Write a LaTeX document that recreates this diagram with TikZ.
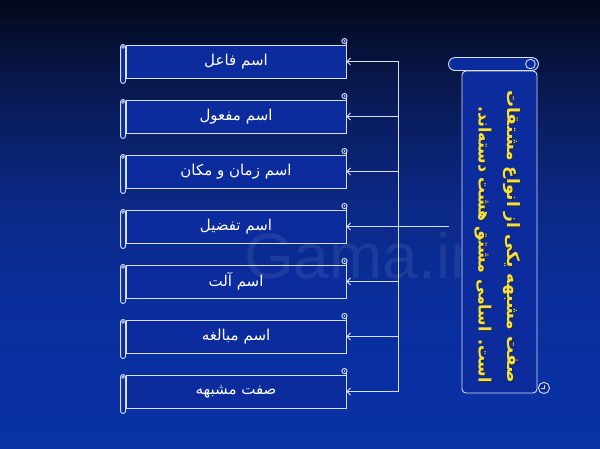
\documentclass[tikz,border=0pt]{standalone}
\usepackage{fontspec}
\usetikzlibrary{arrows.meta}
\TeXXeTstate=1
\newfontfamily\arabicfont[Script=Arabic]{DejaVu Sans}
\newfontfamily\wmfont{Liberation Sans}
\definecolor{bgA}{HTML}{0832A6}
\definecolor{bgB}{HTML}{0A2E9C}
\definecolor{bgC}{HTML}{0B2884}
\definecolor{bgD}{HTML}{0A1C5C}
\definecolor{bgE}{HTML}{06123A}
\definecolor{bgF}{HTML}{02081A}
\definecolor{boxblue}{HTML}{0C2C9E}
\definecolor{linec}{HTML}{D8E0F8}
\definecolor{ylw}{HTML}{F4E040}
\pgfdeclareverticalshading{bgshade}{100bp}{color(0bp)=(bgA); color(25bp)=(bgA); color(41.6bp)=(bgB); color(52.7bp)=(bgC); color(62.7bp)=(bgD); color(69.4bp)=(bgE); color(75bp)=(bgF); color(100bp)=(bgF)}
\tikzset{
  boxst/.style={draw=linec, fill=boxblue, line width=0.9pt, minimum width=220pt, minimum height=33pt, inner sep=0pt, text=white, font=\arabicfont\fontsize{15}{17}\selectfont},
  rodst/.style={draw=linec, fill=boxblue, line width=0.9pt},
  conn/.style={draw=linec, line width=0.9pt},
  tipst/.style={-{Straight Barb[length=3.5pt,width=7pt,line width=0.8pt]}},
  ytext/.style={text=ylw, font=\arabicfont\bfseries\fontsize{17}{19}\selectfont, inner sep=0pt},
  shtext/.style={text=black!85, font=\arabicfont\bfseries\fontsize{17}{19}\selectfont, inner sep=0pt}
}
\begin{document}
\begin{tikzpicture}[x=1pt,y=-1pt]
\useasboundingbox (0,0) rectangle (600,449);
\fill[shading=bgshade] (0,0) rectangle (600,449);
% boxes
\node[boxst] (b1) at (236,61.5) {\beginR اسم فاعل\endR};
\node[boxst] (b2) at (236,116.5) {\beginR اسم مفعول\endR};
\node[boxst] (b3) at (236,171.5) {\beginR اسم زمان و مکان\endR};
\node[boxst] (b4) at (236,226.5) {\beginR اسم تفضیل\endR};
\node[boxst] (b5) at (236,281.5) {\beginR اسم آلت\endR};
\node[boxst] (b6) at (236,336.5) {\beginR اسم مبالغه\endR};
\node[boxst] (b7) at (236,391.5) {\beginR صفت مشبهه\endR};
\foreach \n in {b1,b2,b3,b4,b5,b6,b7}{
  \draw[rodst, rounded corners=2.4pt] ([xshift=-5pt]\n.north west) rectangle ([yshift=-5pt]\n.south west);
  \draw[linec, line width=0.7pt] ([xshift=-2.5pt,yshift=-2.5pt]\n.north west) circle (1.3pt);
  \draw[linec, line width=0.9pt] (\n.north east) -- ([yshift=2.5pt]\n.north east);
  \draw[rodst] ([xshift=-2pt,yshift=3.5pt]\n.north east) circle (2.6pt);
  \fill[linec] ([xshift=-2pt,yshift=3.5pt]\n.north east) circle (0.9pt);
}
% watermark
\node[text=white, opacity=0.08, font=\wmfont\fontsize{64}{64}\selectfont, inner sep=0pt, anchor=base] (wm) at (358,279) {Gama.ir};
% scroll
\node[draw=linec, fill=boxblue, line width=0.9pt, rounded corners=4pt, minimum width=75pt, minimum height=322pt, inner sep=0pt] (scroll) at (499.5,232) {};
\draw[rodst, rounded corners=6.5pt] ([xshift=-13pt]scroll.north west) rectangle ([xshift=1pt,yshift=13pt]scroll.north east);
\draw[linec, line width=0.9pt] ([xshift=-7pt,yshift=6.5pt]scroll.north east) circle (4.8pt);
\draw[rodst] ([xshift=6.5pt,yshift=5.5pt]scroll.south east) circle (5.6pt);
\draw[linec, line width=0.8pt] ([xshift=6.5pt,yshift=5.5pt]scroll.south east) ++(-3pt,0) -- ++(3pt,0) -- ++(0,3pt);
% scroll text
\node[shtext, anchor=east, rotate=-90] (s1) at (513,384) {\beginR صفت مشبهه یکی از انواع مشتقات\endR};
\node[ytext, anchor=east, rotate=-90] (l1) at (512,383) {\beginR صفت مشبهه یکی از انواع مشتقات\endR};
\node[shtext, anchor=east, rotate=-90, xscale=0.93] (s2) at (484,384) {\beginR است. اسامی مشتق هشت دسته‌اند.\endR};
\node[ytext, anchor=east, rotate=-90, xscale=0.93] (l2) at (483,383) {\beginR است. اسامی مشتق هشت دسته‌اند.\endR};
% connectors
\coordinate (src) at ([xshift=-13pt]scroll.west |- b4.east);
\coordinate (bus) at (398,226.5);
\draw[conn] (bus |- b1.east) -- (bus |- b7.east);
\draw[conn, tipst] (src) -- (b4.east);
\foreach \n in {b1,b2,b3,b5,b6,b7}{
  \draw[conn, tipst] (bus |- \n.east) -- (\n.east);
}
\end{tikzpicture}
\end{document}
